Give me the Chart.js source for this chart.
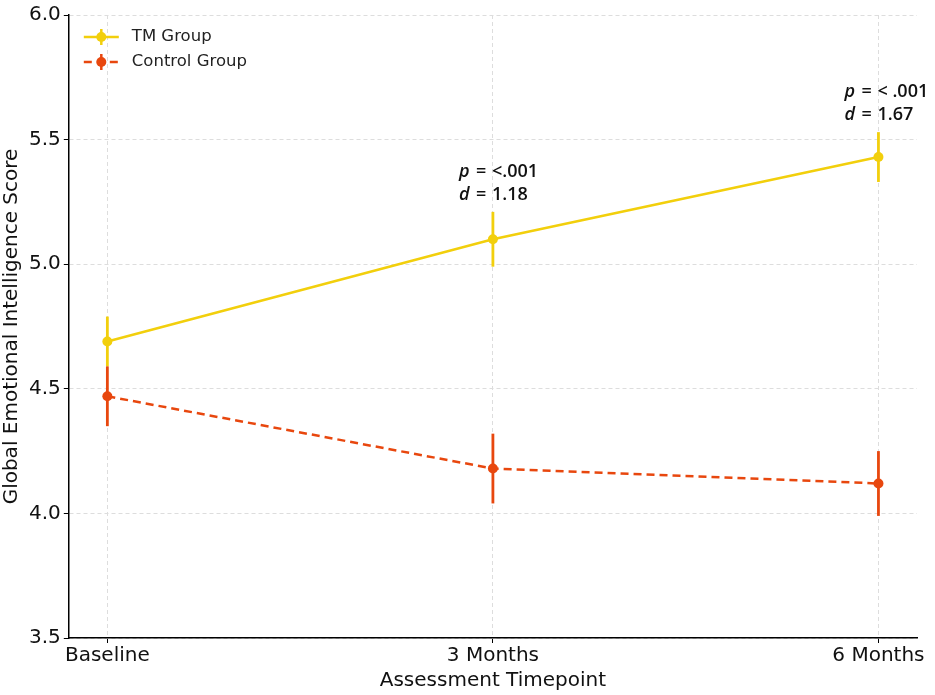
<!DOCTYPE html>
<html>
<head>
  <meta charset="UTF-8">
  <title>Global Emotional Intelligence Score</title>
  <script src="https://cdn.jsdelivr.net/npm/chart.js"></script>
  <style>
    body { margin: 0; background: #fff; }
    #c { display: block; }
  </style>
</head>
<body>
<canvas id="c" width="935" height="695"></canvas>

<script>
  // data
  var timepoints = ['Baseline', '3 Months', '6 Months'];
  var tmMeans = [4.69, 5.10, 5.43];
  var tmErr = [0.10, 0.11, 0.10];
  var controlMeans = [4.47, 4.18, 4.12];
  var controlErr = [0.12, 0.14, 0.13];
  var pLabels = [null, '<.001', '< .001'];
  var dLabels = [null, '1.18', '1.67'];
  var yTicks = [3.5, 4.0, 4.5, 5.0, 5.5, 6.0];

  var tmColor = '#f2cf0c';
  var ctrlColor = '#e8470e';
  var baseFont = 'DejaVu Sans';

  function pts(arr) {
    return arr.map(function(v, i) { return { x: i, y: v }; });
  }

  // vertical error bars, drawn through the scales
  var errorBars = {
    id: 'errorBars',
    beforeDatasetsDraw: function(chart) {
      var ctx = chart.ctx, xs = chart.scales.x, ys = chart.scales.y;
      chart.data.datasets.forEach(function(ds) {
        ctx.save();
        ctx.strokeStyle = ds.borderColor;
        ctx.lineWidth = 2.8;
        ds.data.forEach(function(p, i) {
          var e = ds.errors[i];
          var px = xs.getPixelForValue(p.x);
          ctx.beginPath();
          ctx.moveTo(px, ys.getPixelForValue(p.y - e));
          ctx.lineTo(px, ys.getPixelForValue(p.y + e));
          ctx.stroke();
        });
        ctx.restore();
      });
    }
  };

  // p / d annotations above the TM error bars
  var annotations = {
    id: 'annotations',
    afterDraw: function(chart) {
      var ctx = chart.ctx, xs = chart.scales.x, ys = chart.scales.y;
      ctx.save();
      ctx.fillStyle = '#111';
      ctx.textBaseline = 'alphabetic';
      ctx.textAlign = 'left';
      pLabels.forEach(function(p, i) {
        if (!p) return;
        var x = xs.getPixelForValue(i) - 34;
        var y = ys.getPixelForValue(tmMeans[i] + tmErr[i]) - 35;
        var rows = [['p', '=', p], ['d', '=', dLabels[i]]];
        rows.forEach(function(r, k) {
          var yy = y + k * 23;
          ctx.font = 'italic 600 18px "Open Sans"';
          ctx.fillText(r[0], x, yy);
          ctx.font = '600 18px "Open Sans"';
          ctx.fillText(r[1], x + 17, yy);
          ctx.fillText(r[2], x + 33, yy);
        });
      });
      ctx.restore();
    }
  };

  // legend inside the top-left corner of the plot
  var legendBox = {
    id: 'legendBox',
    afterDraw: function(chart) {
      var ctx = chart.ctx, a = chart.chartArea;
      ctx.save();
      chart.data.datasets.forEach(function(ds, k) {
        var cy = a.top + 22 + k * 25;
        var x0 = a.left + 15, x1 = a.left + 50, cx = (x0 + x1) / 2;
        ctx.strokeStyle = ds.borderColor;
        ctx.fillStyle = ds.borderColor;
        ctx.lineWidth = 2.5;
        ctx.setLineDash(ds.borderDash || []);
        ctx.beginPath();
        ctx.moveTo(x0, cy);
        ctx.lineTo(x1, cy);
        ctx.stroke();
        ctx.setLineDash([]);
        ctx.beginPath();
        ctx.moveTo(cx, cy - 8);
        ctx.lineTo(cx, cy + 8);
        ctx.stroke();
        ctx.beginPath();
        ctx.arc(cx, cy, 5, 0, Math.PI * 2);
        ctx.fill();
        ctx.fillStyle = '#222';
        ctx.font = '16.5px "' + baseFont + '"';
        ctx.textBaseline = 'middle';
        ctx.fillText(ds.label, a.left + 63, cy);
      });
      ctx.restore();
    }
  };

  var ctx = document.getElementById('c').getContext('2d');
  new Chart(ctx, {
    type: 'line',
    data: {
      datasets: [{
        label: 'TM Group',
        data: pts(tmMeans),
        errors: tmErr,
        borderColor: tmColor,
        backgroundColor: tmColor,
        borderWidth: 2.5,
        pointRadius: 5,
        pointHoverRadius: 5,
        pointBorderWidth: 0
      }, {
        label: 'Control Group',
        data: pts(controlMeans),
        errors: controlErr,
        borderColor: ctrlColor,
        backgroundColor: ctrlColor,
        borderWidth: 2.5,
        borderDash: [8, 5],
        pointRadius: 5,
        pointHoverRadius: 5,
        pointBorderWidth: 0
      }]
    },
    options: {
      responsive: false,
      animation: false,
      layout: { padding: { top: 3, right: 18, left: 0, bottom: 0 } },
      plugins: { legend: { display: false }, tooltip: { enabled: false } },
      scales: {
        x: {
          type: 'linear',
          min: -0.1,
          max: 2.1,
          afterBuildTicks: function(s) {
            s.ticks = timepoints.map(function(t, i) { return { value: i }; });
          },
          ticks: {
            color: '#111',
            font: { family: baseFont, size: 20 },
            padding: 1,
            maxRotation: 0,
            callback: function(v) { return timepoints[v]; }
          },
          grid: { color: '#dddddd', tickColor: '#000', tickLength: 5, tickBorderDash: [] },
          border: { color: '#000', width: 1.5, dash: [4, 3] },
          title: { display: true, text: 'Assessment Timepoint', color: '#111', font: { family: baseFont, size: 20 }, padding: { top: 0, bottom: 2 } }
        },
        y: {
          min: 3.5,
          max: 6.0,
          afterBuildTicks: function(s) {
            s.ticks = yTicks.map(function(v) { return { value: v }; });
          },
          ticks: {
            color: '#111',
            font: { family: baseFont, size: 20 },
            padding: 3,
            callback: function(v) { return v.toFixed(1); }
          },
          grid: { color: '#dddddd', tickColor: '#000', tickLength: 5, tickBorderDash: [] },
          border: { color: '#000', width: 1.5, dash: [4, 3] },
          title: { display: true, text: 'Global Emotional Intelligence Score', color: '#111', font: { family: baseFont, size: 20 }, padding: { top: 0, bottom: 2 } }
        }
      }
    },
    plugins: [errorBars, annotations, legendBox]
  });
</script>
</body>
</html>
